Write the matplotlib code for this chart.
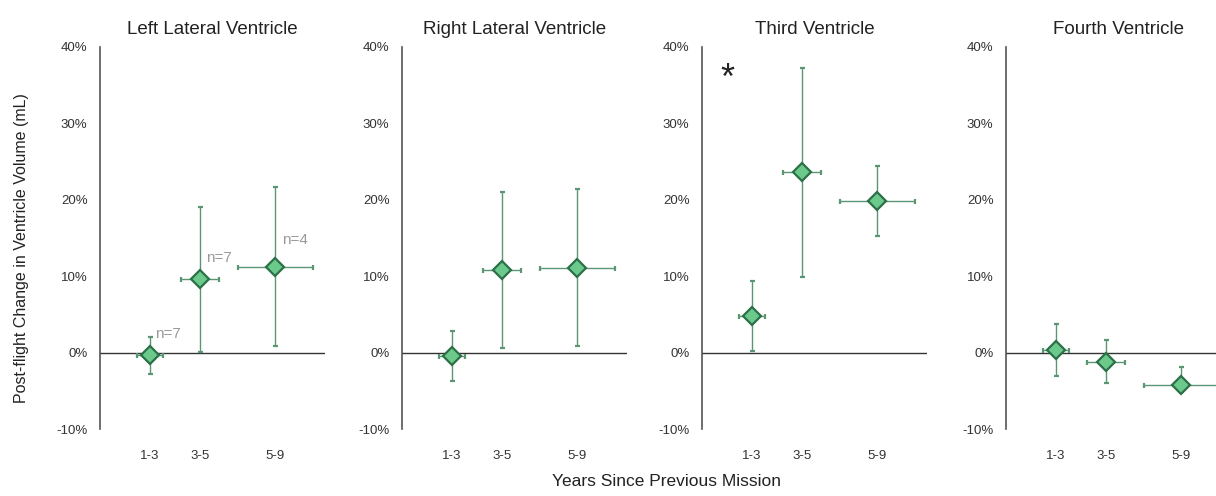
import numpy as np
import matplotlib
matplotlib.use("Agg")
import matplotlib.pyplot as plt
from matplotlib.ticker import FuncFormatter

plt.rcParams["font.family"] = ["Liberation Sans", "DejaVu Sans"]

titles = ["Left Lateral Ventricle", "Right Lateral Ventricle", "Third Ventricle", "Fourth Ventricle"]
group_labels = ["1-3", "3-5", "5-9"]
years = [2, 4, 7]
years_err = [0.52, 0.75, 1.5]

# mean, upper end, lower end (% change)
means = [
    [-0.3, 9.6, 11.2],
    [-0.5, 10.8, 11.1],
    [4.8, 23.6, 19.8],
    [0.3, -1.2, -4.2],
]
upper = [
    [2.1, 19.1, 21.7],
    [2.8, 21.0, 21.4],
    [9.4, 37.3, 24.4],
    [3.7, 1.7, -1.9],
]
lower = [
    [-2.8, 0.1, 0.8],
    [-3.7, 0.6, 0.8],
    [0.2, 9.9, 15.2],
    [-3.0, -4.0, -5.2],
]

n_labels = ["n=7", "n=7", "n=4"]
n_pos_x = [2.72, 4.77, 7.8]
n_pos_y = [2.4, 12.4, 14.7]

FACE = "#6cc98c"
EDGE = "#2b7047"
BAR = "#5a9673"
INK = "#333333"
SPINE = "#555555"

W, H = 1216, 496
fig = plt.figure(figsize=(W / 100, H / 100), dpi=100)
fig.patch.set_facecolor("white")

lefts = [100, 402, 702, 1006]
ax_w = 225
ax_top, ax_bot = 47, 429

for i, left in enumerate(lefts):
    ax = fig.add_axes([left / W, 1 - ax_bot / H, ax_w / W, (ax_bot - ax_top) / H])
    m = np.array(means[i])
    yerr = [m - np.array(lower[i]), np.array(upper[i]) - m]
    ax.axhline(0, color=INK, lw=1.0, zorder=1)
    ax.errorbar(years, m, xerr=years_err, yerr=yerr, fmt="D", ms=9,
                mfc=FACE, mec=EDGE, mew=1.6, ecolor=BAR, elinewidth=1.0,
                capsize=1.8, capthick=0.7, zorder=3, clip_on=False)
    ax.set_xlim(0, 9)
    ax.set_ylim(-10, 40)
    ax.set_yticks([-10, 0, 10, 20, 30, 40])
    ax.yaxis.set_major_formatter(FuncFormatter(lambda v, p: f"{v:.0f}%"))
    ax.set_xticks(years)
    ax.set_xticklabels(group_labels)
    ax.tick_params(length=0, labelsize=9.5, colors=INK)
    ax.tick_params(axis="y", pad=9)
    ax.tick_params(axis="x", pad=15)
    for s in ["top", "right", "bottom"]:
        ax.spines[s].set_visible(False)
    ax.spines["left"].set_color(SPINE)
    ax.spines["left"].set_linewidth(1.2)
    ax.set_title(titles[i], fontsize=13.5, color="#222222", pad=9)

    if i == 0:
        for lab, nx, ny in zip(n_labels, n_pos_x, n_pos_y):
            ax.text(nx, ny, lab, fontsize=11, color="#999999", ha="center", va="center")
    if i == 2:
        ax.text(1.0, 35.8, "*", fontsize=26, color="#222222", ha="center", va="center")

fig.text(22 / W, 1 - 248 / H, "Post-flight Change in Ventricle Volume (mL)",
         rotation=90, ha="center", va="center", fontsize=11.5, color="#222222")
fig.text(667 / W, 1 - 482 / H, "Years Since Previous Mission",
         ha="center", va="center", fontsize=12.5, color="#222222")

fig.savefig("out.png", dpi=100, facecolor="white")
